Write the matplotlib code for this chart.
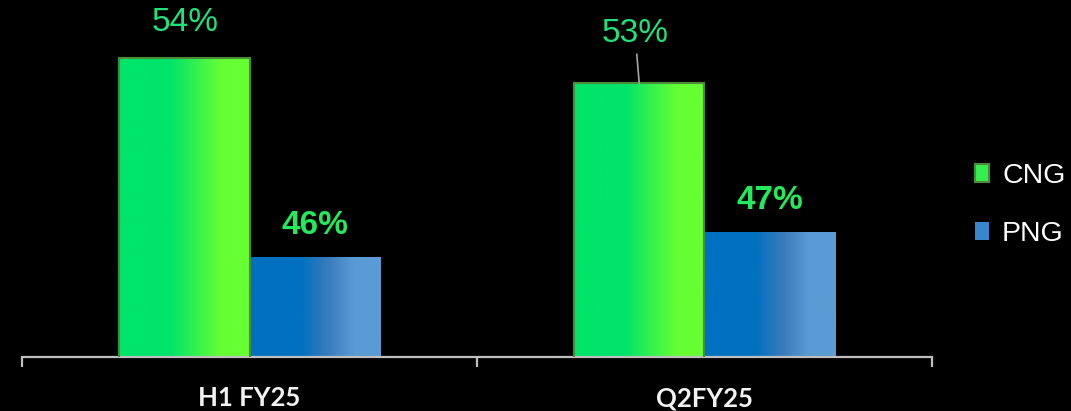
import numpy as np
import matplotlib
matplotlib.use("Agg")
import matplotlib.pyplot as plt
from matplotlib.colors import LinearSegmentedColormap
from matplotlib.patches import Patch

# --- data ---
categories = ["H1 FY25", "Q2FY25"]
cng = [54, 53]
png = [46, 47]
cng_labels = ["54%", "53%"]
png_labels = ["46%", "47%"]

# --- colours ---
cng_cmap = LinearSegmentedColormap.from_list(
    "cng", [(0, "#00e46a"), (0.39, "#00e46a"), (0.79, "#66ff33"), (1, "#66ff33")])
png_cmap = LinearSegmentedColormap.from_list(
    "png", [(0, "#0070c0"), (0.39, "#0070c0"), (0.6, "#3a7cbc"), (0.8, "#5b9bd5"), (1, "#5b9bd5")])

fig = plt.figure(figsize=(10.71, 4.11), dpi=100, facecolor="black")
ax = fig.add_axes([22 / 1071, 54 / 411, 910 / 1071, 348.6 / 411])
ax.set_facecolor("black")

x = np.arange(len(categories))
w = 0.287
grad = np.linspace(0, 1, 256).reshape(1, -1)

bars_c = ax.bar(x - w / 2, cng, w, facecolor="none",
                edgecolor="#4c8c38", linewidth=1.5, zorder=3)
bars_p = ax.bar(x + w / 2, png, w, facecolor="none", edgecolor="none", zorder=3)

for bars, cmap in ((bars_c, cng_cmap), (bars_p, png_cmap)):
    for b in bars:
        x0 = b.get_x()
        ax.imshow(grad, cmap=cmap, aspect="auto", zorder=2,
                  extent=[x0, x0 + b.get_width(), 42, b.get_height()])

ax.set_xlim(-0.5, 1.5)
ax.set_ylim(42, 56)

# value labels
ax.annotate(cng_labels[0], (x[0] - w / 2, cng[0]), xytext=(1, 26),
            textcoords="offset points", ha="center", va="center",
            fontsize=24, color="#1fe37a", family="Liberation Sans")
ax.annotate(cng_labels[1], (x[1] - w / 2, cng[1]), xytext=(-3, 36),
            textcoords="offset points", ha="center", va="center",
            fontsize=24, color="#1fe37a", family="Liberation Sans",
            arrowprops=dict(arrowstyle="-", color="#a6a6a6", lw=1.2,
                            shrinkA=2, shrinkB=0))
for i in range(2):
    ax.annotate(png_labels[i], (x[i] + w / 2, png[i]), xytext=(0, 23),
                textcoords="offset points", ha="center", va="center",
                fontsize=24, fontweight="bold", color="#22ea5a",
                family="Liberation Sans")

# axes styling
for s in ("top", "left", "right"):
    ax.spines[s].set_visible(False)
ax.spines["bottom"].set_color("#bfbfbf")
ax.spines["bottom"].set_linewidth(1.6)
ax.set_yticks([])
ax.set_xticks(x)
ax.set_xticklabels(categories, fontsize=18.5, fontweight="bold",
                   color="#f2f2f2", family="Lato")
ax.tick_params(axis="x", which="major", length=0, pad=21)
ax.set_xticks([-0.5, 0.5, 1.5], minor=True)
ax.tick_params(axis="x", which="minor", length=7, width=1.6, color="#bfbfbf",
               direction="out")

# legend
handles = [Patch(facecolor="#33f04f", edgecolor="#4c8c38", linewidth=1.5),
           Patch(facecolor="#3a86cc", edgecolor="none")]
leg = fig.legend(handles, ["CNG", "PNG"], loc="center left",
                 bbox_to_anchor=(975 / 1071, 1 - 205 / 411), frameon=False,
                 fontsize=20.5, labelcolor="white", borderpad=0,
                 handlelength=0.5, handleheight=0.6, handletextpad=0.45,
                 labelspacing=1.15, borderaxespad=0)
for t in leg.get_texts():
    t.set_family("Liberation Sans")

fig.savefig("out.png", dpi=100, facecolor="black")
